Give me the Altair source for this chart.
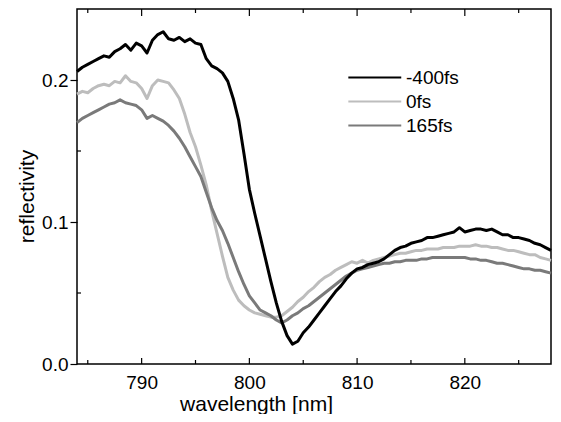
import altair as alt
import pandas as pd

# wavelength grid (nm) and reflectivity
wavelength = [
    784.0, 784.5, 785.0, 785.5, 786.0, 786.5, 787.0, 787.5, 788.0, 788.5,
    789.0, 789.5, 790.0, 790.5, 791.0, 791.5, 792.0, 792.5, 793.0, 793.5,
    794.0, 794.5, 795.0, 795.5, 796.0, 796.5, 797.0, 797.5, 798.0, 798.5,
    799.0, 799.5, 800.0, 800.5, 801.0, 801.5, 802.0, 802.5, 803.0, 803.5,
    804.0, 804.5, 805.0, 805.5, 806.0, 806.5, 807.0, 807.5, 808.0, 808.5,
    809.0, 809.5, 810.0, 810.5, 811.0, 811.5, 812.0, 812.5, 813.0, 813.5,
    814.0, 814.5, 815.0, 815.5, 816.0, 816.5, 817.0, 817.5, 818.0, 818.5,
    819.0, 819.5, 820.0, 820.5, 821.0, 821.5, 822.0, 822.5, 823.0, 823.5,
    824.0, 824.5, 825.0, 825.5, 826.0, 826.5, 827.0, 827.5, 828.0,
]

r_minus400 = [
    0.206, 0.209, 0.211, 0.213, 0.215, 0.217, 0.216, 0.220, 0.222, 0.225,
    0.221, 0.226, 0.224, 0.219, 0.228, 0.232, 0.234, 0.229, 0.228, 0.230,
    0.227, 0.229, 0.226, 0.225, 0.215, 0.210, 0.208, 0.205, 0.199, 0.187,
    0.172, 0.148, 0.123, 0.106, 0.090, 0.074, 0.058, 0.043, 0.030, 0.020,
    0.014, 0.016, 0.022, 0.026, 0.031, 0.036, 0.041, 0.046, 0.051, 0.055,
    0.060, 0.064, 0.067, 0.068, 0.070, 0.071, 0.072, 0.074, 0.077, 0.080,
    0.082, 0.083, 0.085, 0.086, 0.087, 0.089, 0.089, 0.090, 0.091, 0.092,
    0.093, 0.096, 0.093, 0.094, 0.095, 0.095, 0.094, 0.095, 0.093, 0.091,
    0.091, 0.089, 0.089, 0.088, 0.087, 0.085, 0.084, 0.082, 0.080,
]

r_0 = [
    0.190, 0.192, 0.191, 0.194, 0.196, 0.197, 0.196, 0.199, 0.198, 0.203,
    0.199, 0.198, 0.194, 0.187, 0.196, 0.200, 0.199, 0.198, 0.193, 0.187,
    0.176, 0.163, 0.153, 0.140, 0.126, 0.108, 0.092, 0.076, 0.061, 0.052,
    0.045, 0.041, 0.038, 0.036, 0.035, 0.034, 0.033, 0.033, 0.034, 0.037,
    0.040, 0.044, 0.047, 0.051, 0.054, 0.058, 0.061, 0.063, 0.066, 0.068,
    0.070, 0.072, 0.071, 0.073, 0.071, 0.073, 0.074, 0.075, 0.076, 0.077,
    0.078, 0.078, 0.079, 0.080, 0.080, 0.081, 0.081, 0.081, 0.082, 0.082,
    0.082, 0.083, 0.083, 0.083, 0.084, 0.083, 0.083, 0.082, 0.082, 0.081,
    0.080, 0.080, 0.079, 0.078, 0.077, 0.077, 0.075, 0.074, 0.073,
]

r_165 = [
    0.170, 0.173, 0.175, 0.177, 0.179, 0.181, 0.183, 0.184, 0.186, 0.184,
    0.183, 0.182, 0.179, 0.173, 0.175, 0.173, 0.171, 0.168, 0.164, 0.159,
    0.153, 0.146, 0.139, 0.132, 0.121, 0.110, 0.101, 0.094, 0.085, 0.075,
    0.065, 0.056, 0.048, 0.043, 0.038, 0.036, 0.034, 0.031, 0.029, 0.031,
    0.034, 0.036, 0.039, 0.041, 0.044, 0.047, 0.050, 0.053, 0.056, 0.059,
    0.062, 0.064, 0.066, 0.067, 0.068, 0.069, 0.070, 0.071, 0.071, 0.072,
    0.072, 0.073, 0.073, 0.073, 0.074, 0.074, 0.075, 0.075, 0.075, 0.075,
    0.075, 0.075, 0.075, 0.074, 0.074, 0.073, 0.073, 0.072, 0.071, 0.071,
    0.070, 0.069, 0.068, 0.067, 0.067, 0.066, 0.066, 0.065, 0.064,
]

series_names = ["-400fs", "0fs", "165fs"]
series_colors = ["#000000", "#bdbdbd", "#7a7a7a"]

major_x = [790, 800, 810, 820]
minor_x = [785, 795, 805, 815, 825]
major_y = [0.0, 0.1, 0.2]
minor_y = [0.05, 0.15]

W, H = 474, 355
FONT = "Liberation Sans"

# long table, black drawn last so it sits on top
rows = []
for name, vals in [("0fs", r_0), ("165fs", r_165), ("-400fs", r_minus400)]:
    for wl, r in zip(wavelength, vals):
        rows.append({"wavelength": wl, "reflectivity": r, "delay": name})
df = pd.DataFrame(rows)

xscale = alt.Scale(domain=[784, 828], nice=False, zero=False)
yscale = alt.Scale(domain=[0, 0.25], nice=False, zero=False)

# legend key: a long dash drawn with a custom path on a small symbol
legend = alt.Legend(title=None, orient="none", legendX=283, legendY=59,
                    symbolType="M-4,0H6", symbolSize=112, symbolStrokeWidth=2.2,
                    labelFontSize=19, labelFont=FONT, labelColor="black",
                    labelOffset=27, padding=0, rowPadding=4)

lines = alt.Chart(df).mark_line(strokeWidth=3, strokeJoin="round").encode(
    x=alt.X("wavelength:Q", scale=xscale,
            axis=alt.Axis(values=major_x, ticks=False, domain=False, grid=False,
                          labelPadding=9.5, labelFontSize=19, labelFont=FONT,
                          labelColor="black", title="wavelength [nm]",
                          titleFont=FONT, titleFontSize=21, titleFontWeight="normal",
                          titleColor="black", titleX=179, titleY=46,
                          titleBaseline="alphabetic", titleAlign="center")),
    y=alt.Y("reflectivity:Q", scale=yscale,
            axis=alt.Axis(values=major_y, format=".1f", tickSize=7, tickColor="black",
                          tickWidth=1.2, domain=False, grid=False, labelPadding=2,
                          labelFontSize=19, labelFont=FONT, labelColor="black",
                          title="reflectivity", titleFont=FONT, titleFontSize=21,
                          titleFontWeight="normal", titleColor="black",
                          titleX=-44, titleY=187, titleBaseline="alphabetic",
                          titleAlign="center")),
    color=alt.Color("delay:N", scale=alt.Scale(domain=series_names, range=series_colors),
                    legend=legend),
)

tick_style = dict(color="black", strokeWidth=1.2)

bottom_major = alt.Chart(pd.DataFrame({"wavelength": major_x})).mark_rule(**tick_style).encode(
    x="wavelength:Q", y=alt.value(H), y2=alt.value(H - 6))
bottom_minor = alt.Chart(pd.DataFrame({"wavelength": minor_x})).mark_rule(**tick_style).encode(
    x="wavelength:Q", y=alt.value(H), y2=alt.value(H - 4))
top_major = alt.Chart(pd.DataFrame({"wavelength": major_x})).mark_rule(**tick_style).encode(
    x="wavelength:Q", y=alt.value(0), y2=alt.value(7))
top_minor = alt.Chart(pd.DataFrame({"wavelength": minor_x})).mark_rule(**tick_style).encode(
    x="wavelength:Q", y=alt.value(0), y2=alt.value(4))
left_minor = alt.Chart(pd.DataFrame({"reflectivity": minor_y})).mark_rule(**tick_style).encode(
    y="reflectivity:Q", x=alt.value(0), x2=alt.value(4))

chart = alt.layer(lines, bottom_major, bottom_minor, top_major, top_minor, left_minor).properties(
    width=W, height=H, padding={"left": 8, "top": 0, "right": 0, "bottom": 0},
    background="white",
).configure_view(stroke="black", strokeWidth=1.5)

chart.save("out.html", embed_options={"renderer": "svg", "actions": False})
